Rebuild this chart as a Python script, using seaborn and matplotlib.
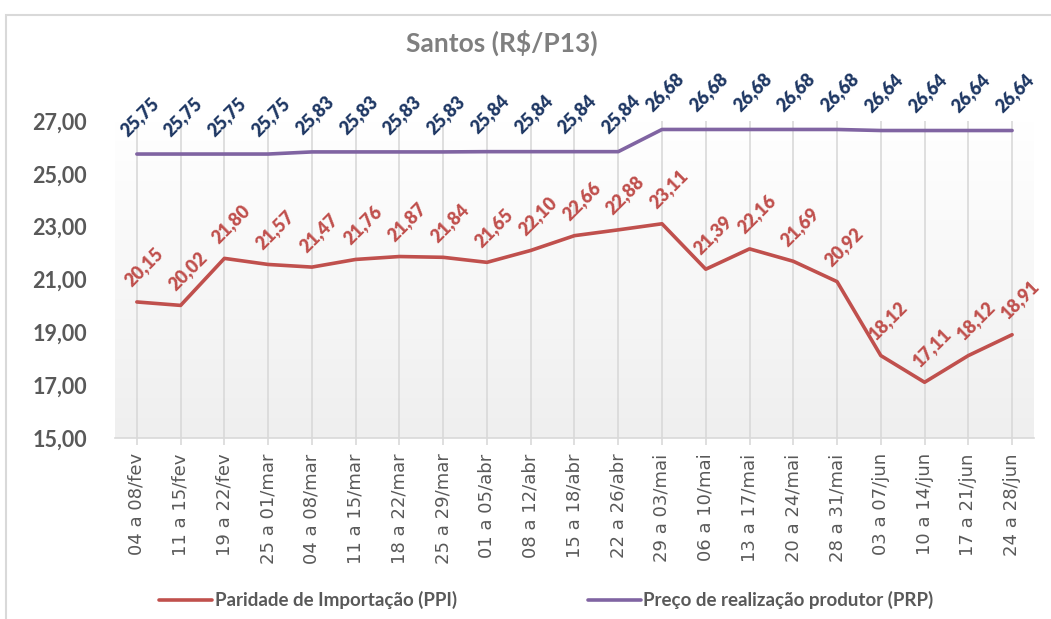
import matplotlib.pyplot as plt
import matplotlib.patches as mpatches
import seaborn as sns
import pandas as pd
import numpy as np

semanas = ["04 a 08/fev", "11 a 15/fev", "19 a 22/fev", "25 a 01/mar", "04 a 08/mar",
           "11 a 15/mar", "18 a 22/mar", "25 a 29/mar", "01 a 05/abr", "08 a 12/abr",
           "15 a 18/abr", "22 a 26/abr", "29 a 03/mai", "06 a 10/mai", "13 a 17/mai",
           "20 a 24/mai", "28 a 31/mai", "03 a 07/jun", "10 a 14/jun", "17 a 21/jun",
           "24 a 28/jun"]
ppi = [20.15, 20.02, 21.80, 21.57, 21.47, 21.76, 21.87, 21.84, 21.65, 22.10, 22.66,
       22.88, 23.11, 21.39, 22.16, 21.69, 20.92, 18.12, 17.11, 18.12, 18.91]
prp = [25.75, 25.75, 25.75, 25.75, 25.83, 25.83, 25.83, 25.83, 25.84, 25.84, 25.84,
       25.84, 26.68, 26.68, 26.68, 26.68, 26.68, 26.64, 26.64, 26.64, 26.64]
yticks = [15, 17, 19, 21, 23, 25, 27]

RED = "#C0504D"
PURPLE = "#8064A2"
NAVY = "#1F3864"
GRAY = "#595959"

sns.set_theme(style="white")
plt.rcParams["font.family"] = ["Lato", "DejaVu Sans"]

df = pd.DataFrame({"semana": semanas, "PPI": ppi, "PRP": prp})
df["x"] = np.arange(len(df))

fig = plt.figure(figsize=(10.51, 6.19), dpi=100)
ax = fig.add_axes([0.1094, 0.2924, 0.8744, 0.5121])

# plot area gradient (white -> light gray)
grad = np.linspace(0, 1, 256).reshape(-1, 1)
ax.imshow(grad, extent=[0, 1, 0, 1], transform=ax.transAxes, aspect="auto",
          cmap=plt.matplotlib.colors.LinearSegmentedColormap.from_list("g", ["#EFEFEF", "#FFFFFF"]),
          origin="lower", zorder=0)

sns.lineplot(data=df, x="x", y="PPI", ax=ax, color=RED, linewidth=2.6, zorder=3)
sns.lineplot(data=df, x="x", y="PRP", ax=ax, color=PURPLE, linewidth=2.6, zorder=3)

for xi, v in zip(df["x"], df["PPI"]):
    ax.annotate(f"{v:.2f}".replace(".", ","), (xi, v), xytext=(5, 9),
                textcoords="offset points", ha="center", va="bottom", rotation=45,
                color=RED, fontsize=13, fontweight="heavy", annotation_clip=False)
for xi, v in zip(df["x"], df["PRP"]):
    ax.annotate(f"{v:.2f}".replace(".", ","), (xi, v), xytext=(2, 11),
                textcoords="offset points", ha="center", va="bottom", rotation=45,
                color=NAVY, fontsize=13, fontweight="heavy", annotation_clip=False)

ax.set_xlim(-0.5, len(df) - 0.5)
ax.set_ylim(15, 27)
ax.set_xticks(df["x"])
ax.set_xticklabels(semanas, rotation=90, fontsize=13, color=GRAY, family="DejaVu Sans")
ax.set_yticks(yticks)
ax.set_yticklabels([f"{t:.2f}".replace(".", ",") for t in yticks],
                   fontsize=15.5, fontweight="bold", color=GRAY)
ax.set_xlabel("")
ax.set_ylabel("")
ax.grid(axis="x", color="#D9D9D9", linewidth=1.2)
ax.grid(axis="y", visible=False)
ax.set_axisbelow(True)
for s in ["top", "right", "left"]:
    ax.spines[s].set_visible(False)
ax.spines["bottom"].set_color("#D9D9D9")
ax.spines["bottom"].set_linewidth(1.2)
ax.tick_params(axis="x", bottom=True, length=5, color="#D9D9D9", width=1.2, pad=6)
ax.tick_params(axis="y", left=False, pad=14)

fig.text(0.477, 0.93, "Santos (R$/P13)", ha="center", va="center",
         fontsize=19, fontweight="bold", color="#7F7F7F")

handles = [plt.Line2D([], [], color=RED, linewidth=2.6),
           plt.Line2D([], [], color=PURPLE, linewidth=2.6)]
fig.legend(handles, ["Paridade de Importação (PPI)", "Preço de realização produtor (PRP)"],
           loc="center", bbox_to_anchor=(0.52, 0.03), ncol=2, frameon=False,
           handlelength=2.8, handletextpad=0.15, columnspacing=7,
           prop={"size": 13.5, "weight": "bold"}, labelcolor=GRAY)

fig.patches.append(mpatches.Rectangle((0.006, -0.1), 1.2, 1.075, transform=fig.transFigure,
                                      fill=False, edgecolor="#D9D9D9", linewidth=1.5))

plt.savefig("out.png", dpi=100)
